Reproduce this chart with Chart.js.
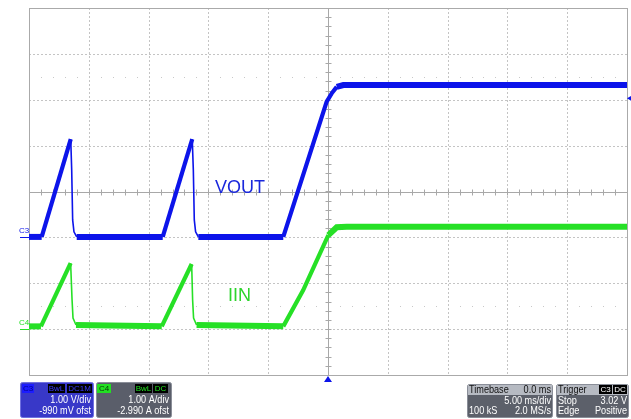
<!DOCTYPE html>
<html>
<head>
<meta charset="utf-8">
<script src="https://cdn.jsdelivr.net/npm/chart.js@4"></script>
<style>
  html, body { margin: 0; padding: 0; background: #ffffff; }
  #scope { display: block; }
</style>
</head>
<body>
<canvas id="scope" width="631" height="419"></canvas>
<script>
// time in ms (5 ms/div, trigger at 0)
const vTime = [-25, -23.94, -21.51, -21.43, -21.35, -21.24, -21.01, -13.82, -11.35, -11.26, -11.18, -11.07, -10.84, -3.74, -0.11, 0.31, 0.73, 1.28, 25];
const vVolt = [0, 0, 2.13, 1.46, 0.37, 0.11, 0, 0, 2.13, 1.46, 0.37, 0.11, 0, 0, 2.95, 3.13, 3.27, 3.31, 3.31];

const iTime = [-25, -24.0, -21.52, -21.40, -21.32, -21.07, -13.90, -11.40, -11.32, -11.24, -10.99, -3.74, -2.07, -0.67, 0.03, 0.73, 1.56, 25];
const iAmp = [0.05, 0.05, 1.43, 0.63, 0.23, 0.08, 0.05, 1.41, 0.63, 0.23, 0.08, 0.05, 0.84, 1.64, 2.04, 2.21, 2.22, 2.22];

const timeDivs = [-25, -20, -15, -10, -5, 0, 5, 10, 15, 20, 25];
const vertDivs = [-4, -3, -2, -1, 0, 1, 2, 3, 4];

// channel settings (1 unit/div, offsets)
const c3Offset = -0.99;
const c4Offset = -2.99;
const trigLevel = 3.02;

const BLUE = '#0c14ea';
const GREEN = '#26e026';

const toPts = (xs, ys) => xs.map((x, i) => ({ x: x, y: ys[i] }));

// thin line where the trace drops fast, noisy band elsewhere
const segWidth = ctx => {
    const dx = ctx.p1.parsed.x - ctx.p0.parsed.x;
    const dy = ctx.p1.parsed.y - ctx.p0.parsed.y;
    if (dy < -0.05 && dx < 0.3) return 1.6;
    if (dy / dx > 0.3) return 4.2;
    return 6;
};

const gridPlugin = {
    id: 'scopeGrid',
    beforeDatasetsDraw(chart) {
        const ctx = chart.ctx;
        const a = chart.chartArea;
        const xs = chart.scales.x;
        const ys = chart.scales.y3;
        const divY = d => ys.getPixelForValue(d - c3Offset);
        const cx = xs.getPixelForValue(0);
        const cy = divY(0);
        ctx.save();
        // dashed grid
        ctx.strokeStyle = '#c4c4c4';
        ctx.lineWidth = 1;
        ctx.setLineDash([2, 2]);
        timeDivs.forEach(t => {
            if (t === 0 || t === -25 || t === 25) return;
            const x = Math.round(xs.getPixelForValue(t)) + 0.5;
            ctx.beginPath(); ctx.moveTo(x, a.top); ctx.lineTo(x, a.bottom); ctx.stroke();
        });
        vertDivs.forEach(d => {
            if (d === 0 || d === -4 || d === 4) return;
            const y = Math.round(divY(d)) + 0.5;
            ctx.beginPath(); ctx.moveTo(a.left, y); ctx.lineTo(a.right, y); ctx.stroke();
        });
        ctx.setLineDash([]);
        // dotted half rows
        ctx.fillStyle = '#c8c8c8';
        [2.5, -2.5].forEach(d => {
            const y = Math.round(divY(d));
            for (let t = -25; t <= 25; t += 1) {
                if (t % 5 === 0) continue;
                const x = Math.round(xs.getPixelForValue(t));
                ctx.fillRect(x, y, 1, 1);
            }
        });
        // centre cross with ticks
        ctx.strokeStyle = '#a8a8a8';
        const cxp = Math.round(cx) + 0.5, cyp = Math.round(cy) + 0.5;
        ctx.beginPath();
        ctx.moveTo(cxp, a.top); ctx.lineTo(cxp, a.bottom);
        ctx.moveTo(a.left, cyp); ctx.lineTo(a.right, cyp);
        for (let t = -25; t <= 25; t += 1) {
            const x = Math.round(xs.getPixelForValue(t)) + 0.5;
            ctx.moveTo(x, cyp - 3); ctx.lineTo(x, cyp + 3);
        }
        for (let d = -4; d <= 4; d += 0.2) {
            const y = Math.round(divY(d)) + 0.5;
            ctx.moveTo(cxp - 3, y); ctx.lineTo(cxp + 3, y);
        }
        ctx.stroke();
        // frame
        ctx.strokeStyle = '#aaaaaa';
        ctx.strokeRect(Math.round(a.left) + 0.5, Math.round(a.top) + 0.5, Math.round(a.right - a.left), Math.round(a.bottom - a.top));
        ctx.restore();
    }
};

function box(ctx, x, y, w, h, fill, stroke) {
    ctx.beginPath();
    ctx.roundRect(x + 0.5, y + 0.5, w, h, 2);
    ctx.fillStyle = fill;
    ctx.fill();
    if (stroke) { ctx.strokeStyle = stroke; ctx.lineWidth = 1; ctx.stroke(); }
}

function tag(ctx, x, y, w, text, bg, fg) {
    ctx.fillStyle = bg;
    ctx.fillRect(x, y, w, 9);
    ctx.fillStyle = fg;
    ctx.font = '8px "Liberation Sans", Arial, sans-serif';
    ctx.textAlign = 'center';
    ctx.textBaseline = 'middle';
    ctx.fillText(text, x + w / 2, y + 5);
}

// scope readouts use a slightly narrow face
function txt(ctx, s, x, y, align, color) {
    ctx.fillStyle = color;
    ctx.font = '10.5px "Liberation Sans", Arial, sans-serif';
    ctx.textAlign = align;
    ctx.textBaseline = 'middle';
    ctx.fillText(s, x, y, ctx.measureText(s).width * 0.87);
}

const overlayPlugin = {
    id: 'scopeOverlay',
    afterDatasetsDraw(chart) {
        const ctx = chart.ctx;
        const a = chart.chartArea;
        const xs = chart.scales.x;
        const y3 = chart.scales.y3;
        const y4 = chart.scales.y4;
        ctx.save();
        // trace labels
        ctx.font = '18px "Liberation Sans", Arial, sans-serif';
        ctx.textBaseline = 'middle';
        ctx.textAlign = 'left';
        ctx.fillStyle = '#1a28dc';
        ctx.fillText('VOUT', 215, 188);
        ctx.fillStyle = '#2cd42c';
        ctx.fillText('IIN', 228, 296);

        // channel ground markers
        const g3 = Math.round(y3.getPixelForValue(0));
        const g4 = Math.round(y4.getPixelForValue(0));
        ctx.font = '8px "Liberation Sans", Arial, sans-serif';
        ctx.textAlign = 'left';
        ctx.textBaseline = 'bottom';
        ctx.fillStyle = BLUE;
        ctx.fillText('C3', 19, g3 - 2);
        ctx.fillRect(20, g3, 9, 1);
        ctx.fillStyle = GREEN;
        ctx.fillText('C4', 19, g4 - 2);
        ctx.fillRect(20, g4, 9, 1);

        // trigger level marker (right) and trigger position marker (bottom)
        const ty = y3.getPixelForValue(trigLevel);
        ctx.fillStyle = BLUE;
        ctx.beginPath();
        ctx.moveTo(a.right + 0, ty); ctx.lineTo(a.right + 5, ty - 3); ctx.lineTo(a.right + 5, ty + 3);
        ctx.closePath(); ctx.fill();
        const tx = xs.getPixelForValue(0);
        ctx.beginPath();
        ctx.moveTo(tx, a.bottom + 1); ctx.lineTo(tx - 4, a.bottom + 7); ctx.lineTo(tx + 4, a.bottom + 7);
        ctx.closePath(); ctx.fill();

        // C3 box
        box(ctx, 20, 382, 73, 35, '#3838c8', '#7070e0');
        tag(ctx, 22, 384, 12, 'C3', '#1c1cff', '#000090');
        tag(ctx, 48, 384, 17, 'BwL', '#000000', '#3a3aff');
        tag(ctx, 67, 384, 25, 'DC1M', '#000000', '#3a3aff');
        txt(ctx, '1.00 V/div', 91, 400, 'right', '#ffffff');
        txt(ctx, '-990 mV ofst', 91, 411, 'right', '#ffffff');

        // C4 box
        box(ctx, 96, 382, 75, 35, '#5a5e6a', '#8a8e98');
        tag(ctx, 97, 384, 14, 'C4', '#22e022', '#083008');
        tag(ctx, 135, 384, 17, 'BwL', '#000000', '#22e022');
        tag(ctx, 153, 384, 15, 'DC', '#000000', '#22e022');
        txt(ctx, '1.00 A/div', 169, 400, 'right', '#ffffff');
        txt(ctx, '-2.990 A ofst', 169, 411, 'right', '#ffffff');

        // Timebase box
        box(ctx, 467, 384, 85, 33, '#5c606a', '#8a8e98');
        ctx.fillStyle = '#b6bac2';
        ctx.fillRect(468, 385, 84, 10);
        txt(ctx, 'Timebase', 469, 390, 'left', '#111111');
        txt(ctx, '0.0 ms', 551, 390, 'right', '#111111');
        txt(ctx, '5.00 ms/div', 551, 401, 'right', '#ffffff');
        txt(ctx, '100 kS', 469, 411, 'left', '#ffffff');
        txt(ctx, '2.0 MS/s', 551, 411, 'right', '#ffffff');

        // Trigger box
        box(ctx, 556, 384, 72, 33, '#5c606a', '#8a8e98');
        ctx.fillStyle = '#b6bac2';
        ctx.fillRect(557, 385, 71, 10);
        txt(ctx, 'Trigger', 558, 390, 'left', '#111111');
        tag(ctx, 599, 385, 13, 'C3', '#000000', '#ffffff');
        tag(ctx, 613, 385, 14, 'DC', '#000000', '#ffffff');
        txt(ctx, 'Stop', 558, 401, 'left', '#ffffff');
        txt(ctx, '3.02 V', 627, 401, 'right', '#ffffff');
        txt(ctx, 'Edge', 558, 411, 'left', '#ffffff');
        txt(ctx, 'Positive', 627, 411, 'right', '#ffffff');
        ctx.restore();
    }
};

new Chart(document.getElementById('scope').getContext('2d'), {
    type: 'line',
    data: {
        datasets: [
            {
                label: 'VOUT',
                data: toPts(vTime, vVolt),
                yAxisID: 'y3',
                borderColor: BLUE,
                borderWidth: 6,
                pointRadius: 0,
                tension: 0,
                segment: { borderWidth: segWidth }
            },
            {
                label: 'IIN',
                data: toPts(iTime, iAmp),
                yAxisID: 'y4',
                borderColor: GREEN,
                borderWidth: 6,
                pointRadius: 0,
                tension: 0,
                segment: { borderWidth: segWidth }
            }
        ]
    },
    options: {
        responsive: false,
        animation: false,
        devicePixelRatio: 1,
        layout: { padding: { left: 29, top: 8, right: 4, bottom: 44 } },
        scales: {
            x: { type: 'linear', min: -25, max: 25, display: false },
            y3: { type: 'linear', min: -4 - c3Offset, max: 4 - c3Offset, display: false },
            y4: { type: 'linear', min: -4 - c4Offset, max: 4 - c4Offset, display: false }
        },
        plugins: {
            legend: { display: false },
            tooltip: { enabled: false }
        }
    },
    plugins: [gridPlugin, overlayPlugin]
});
</script>
</body>
</html>
